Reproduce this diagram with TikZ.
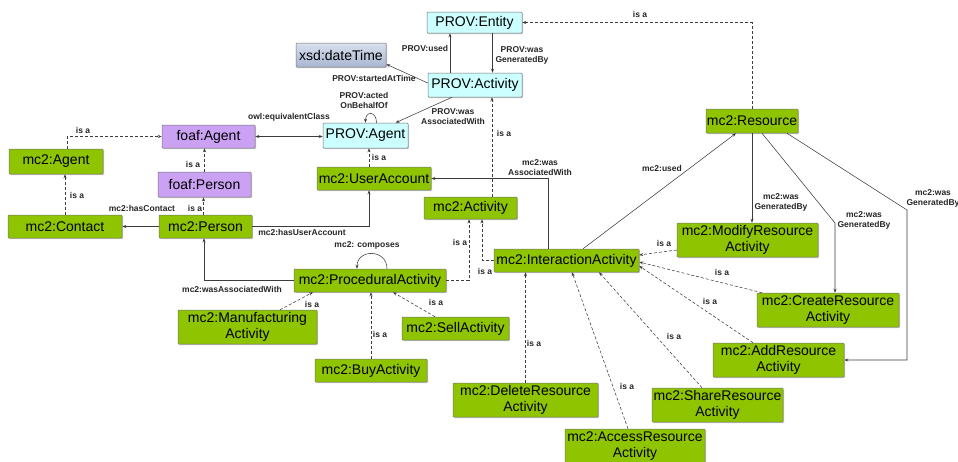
\documentclass[tikz,border=0pt]{standalone}
\usepackage{fontspec}
\setmainfont{Liberation Sans}
\usetikzlibrary{arrows.meta,shadows,calc}
\definecolor{mcgreen}{RGB}{143,196,0}
\definecolor{provcyan}{RGB}{204,255,255}
\definecolor{foafpurple}{RGB}{203,162,243}
\definecolor{dtlight}{RGB}{216,224,238}
\definecolor{dtdark}{RGB}{168,182,208}
\definecolor{edgegray}{RGB}{60,60,60}
\tikzset{
  box/.style={draw=black!55, line width=0.5pt, rounded corners=0.8pt, inner sep=0pt,
    font=\fontsize{14}{16}\selectfont, align=center,
    drop shadow={shadow xshift=1pt,shadow yshift=-1pt,opacity=0.3,fill=black!70}},
  gbox/.style={box, fill=mcgreen},
  cbox/.style={box, fill=provcyan},
  pbox/.style={box, fill=foafpurple},
  dbox/.style={box, top color=dtlight, bottom color=dtdark},
  lbl/.style={font=\bfseries\fontsize{8.5}{10}\selectfont, align=center, inner sep=0pt, text=black!85},
  rel/.style={draw=edgegray, line width=0.55pt, -{Stealth[length=4pt,width=3pt]}},
  isa/.style={rel, dash pattern=on 3pt off 2pt},
}
\begin{document}
\begin{tikzpicture}[x=1pt,y=-1pt]
\useasboundingbox (0,0) rectangle (958,461);
% nodes
\node[cbox, minimum width=95pt, minimum height=21pt] (entity) at (474.5,22.5) {PROV:Entity};
\node[dbox, minimum width=90pt, minimum height=24pt] (datetime) at (341,55) {xsd:dateTime};
\node[cbox, minimum width=94pt, minimum height=24pt] (pact) at (475,85) {PROV:Activity};
\node[cbox, minimum width=85pt, minimum height=25pt] (pagent) at (365.5,135.5) {PROV:Agent};
\node[pbox, minimum width=93pt, minimum height=23pt] (fagent) at (208.5,136.5) {foaf:Agent};
\node[gbox, minimum width=94pt, minimum height=25pt] (magent) at (56,161.5) {mc2:Agent};
\node[pbox, minimum width=93pt, minimum height=25pt] (fperson) at (204.5,184.5) {foaf:Person};
\node[gbox, minimum width=114pt, minimum height=23pt] (contact) at (65,226.5) {mc2:Contact};
\node[gbox, minimum width=93pt, minimum height=23pt] (person) at (205.5,226.5) {mc2:Person};
\node[gbox, minimum width=114pt, minimum height=23pt] (useracc) at (374,178.5) {mc2:UserAccount};
\node[gbox, minimum width=93pt, minimum height=22pt] (mact) at (470.5,208) {mc2:Activity};
\node[gbox, minimum width=145pt, minimum height=23pt] (inter) at (566.5,260.5) {mc2:InteractionActivity};
\node[gbox, minimum width=152pt, minimum height=23pt] (proc) at (370,280.5) {mc2:ProceduralActivity};
\node[gbox, minimum width=139pt, minimum height=34pt] (manu) at (247.5,327) {mc2:Manufacturing\\Activity};
\node[gbox, minimum width=107pt, minimum height=23pt] (sell) at (455.5,328.5) {mc2:SellActivity};
\node[gbox, minimum width=112pt, minimum height=23pt] (buy) at (371,370.5) {mc2:BuyActivity};
\node[gbox, minimum width=145pt, minimum height=34pt] (delete) at (525.5,400) {mc2:DeleteResource\\Activity};
\node[gbox, minimum width=140pt, minimum height=34pt] (access) at (635,446) {mc2:AccessResource\\Activity};
\node[gbox, minimum width=131pt, minimum height=34pt] (share) at (717.5,405) {mc2:ShareResource\\Activity};
\node[gbox, minimum width=131pt, minimum height=34pt] (add) at (778.5,360) {mc2:AddResource\\Activity};
\node[gbox, minimum width=142pt, minimum height=34pt] (create) at (828,310) {mc2:CreateResource\\Activity};
\node[gbox, minimum width=141pt, minimum height=34pt] (modify) at (747.5,240) {mc2:ModifyResource\\Activity};
\node[gbox, minimum width=92pt, minimum height=24pt] (resource) at (752,121) {mc2:Resource};
% helper coordinates
\coordinate (c1) at (835,223);
\coordinate (c2) at (907,210);
% edges
\draw[isa] (resource.north) |- (entity.east);
\draw[rel] ([xshift=-25]pact.north) -- ([xshift=-25]pact.north |- entity.south);
\draw[rel] ([xshift=18]entity.south) -- ([xshift=18]entity.south |- pact.north);
\draw[rel] ([yshift=2]pact.west) -- ([yshift=3]datetime.south east);
\draw[rel] ([xshift=-23]pact.south) -- ([xshift=30]pagent.north);
\draw[rel] ([xshift=11]pagent.north) .. controls +(0,-12) and +(0,-12) .. ([xshift=0]pagent.north);
\draw[rel,{Stealth[length=4pt,width=3pt]}-{Stealth[length=4pt,width=3pt]}] (fagent.east) -- (fagent.east -| pagent.west);
\draw[isa] ([xshift=11]magent.north) |- (fagent.west);
\draw[isa] (contact.north) -- (contact.north |- magent.south);
\draw[isa] (fperson.north) -- (fperson.north |- fagent.south);
\draw[isa] ([xshift=-2]person.north) -- ([xshift=-2]person.north |- fperson.south);
\draw[rel] (person.west) -- (contact.east);
\draw[rel] (person.east) -| ([xshift=-5]useracc.south);
\draw[isa] ([xshift=-5]useracc.north) -- ([xshift=-5]useracc.north |- pagent.south);
\draw[isa] ([xshift=21.5]mact.north) -- ([xshift=21.5]mact.north |- pact.south);
\draw[rel] ([xshift=-18.5]inter.north) |- (useracc.east);
\draw[isa] (inter.west) -| ([xshift=11.5]mact.south);
\draw[isa] (proc.east) -| ([xshift=-1.5]mact.south);
\draw[rel] (proc.west) -| ([xshift=-1.5]person.south);
\draw[rel] ([xshift=17]proc.north) .. controls +(0,-20) and +(0,-20) .. ([xshift=-13]proc.north);
\draw[isa] ([xshift=32.5]manu.north) -- ([xshift=-57]proc.south);
\draw[isa] (buy.north) -- (buy.north |- proc.south);
\draw[isa] ([xshift=-20.5]sell.north) -- ([xshift=23]proc.south);
\draw[rel] ([xshift=16.5]inter.north) -- ([xshift=-16]resource.south);
\draw[rel] (resource.south) -- (resource.south |- modify.north);
\draw[rel] ([xshift=10]resource.south) -- (c1) -- (c1 |- create.north);
\draw[rel] ([xshift=35]resource.south) -- (c2) |- (add.east);
\draw[isa] ([yshift=-10]modify.west) -- ([yshift=5.5]inter.east);
\draw[isa] ([xshift=-66]create.north) -- ([yshift=-1.5]inter.east);
\draw[isa] ([xshift=-25.5]add.north) -- ([yshift=-5.5]inter.east);
\draw[isa] ([xshift=-15.5]share.north) -- ([xshift=32.5]inter.south);
\draw[isa] ([xshift=-7]access.north) -- ([xshift=5.5]inter.south);
\draw[isa] (delete.north) -- (delete.north |- inter.south);
% labels
\node[lbl] (l1) at (640,14) {is a};
\node[lbl] (l2) at (425,48) {PROV:used};
\node[lbl] (l3) at (522,55) {PROV:was\\GeneratedBy};
\node[lbl] (l4) at (374,78) {PROV:startedAtTime};
\node[lbl] (l5) at (364,100) {PROV:acted\\OnBehalfOf};
\node[lbl] (l6) at (453,117) {PROV:was\\AssociatedWith};
\node[lbl] (l7) at (289,117) {owl:equivalentClass};
\node[lbl] (l8) at (83,130) {is a};
\node[lbl] (l9) at (77,195) {is a};
\node[lbl] (l10) at (193,164) {is a};
\node[lbl] (l11) at (195,208) {is a};
\node[lbl] (l12) at (142,208) {mc2:hasContact};
\node[lbl] (l13) at (302,232) {mc2:hasUserAccount};
\node[lbl] (l14) at (379,157) {is a};
\node[lbl] (l15) at (504,133) {is a};
\node[lbl] (l16) at (540,168) {mc2:was\\AssociatedWith};
\node[lbl] (l17) at (460,242) {is a};
\node[lbl] (l18) at (485,271) {is a};
\node[lbl] (l19) at (662,168) {mc2:used};
\node[lbl] (l20) at (664,243) {is a};
\node[lbl] (l21) at (781,202) {mc2:was\\GeneratedBy};
\node[lbl] (l22) at (864,220) {mc2:was\\GeneratedBy};
\node[lbl] (l23) at (933,198) {mc2:was\\GeneratedBy};
\node[lbl] (l24) at (722,272) {is a};
\node[lbl] (l25) at (710,301) {is a};
\node[lbl] (l26) at (674,336) {is a};
\node[lbl] (l27) at (627,386) {is a};
\node[lbl] (l28) at (534,343) {is a};
\node[lbl] (l29) at (367,245) {mc2: composes};
\node[lbl] (l30) at (232,289) {mc2:wasAssociatedWith};
\node[lbl] (l31) at (312,304) {is a};
\node[lbl] (l32) at (380,334) {is a};
\node[lbl] (l33) at (436,302) {is a};
\end{tikzpicture}
\end{document}
